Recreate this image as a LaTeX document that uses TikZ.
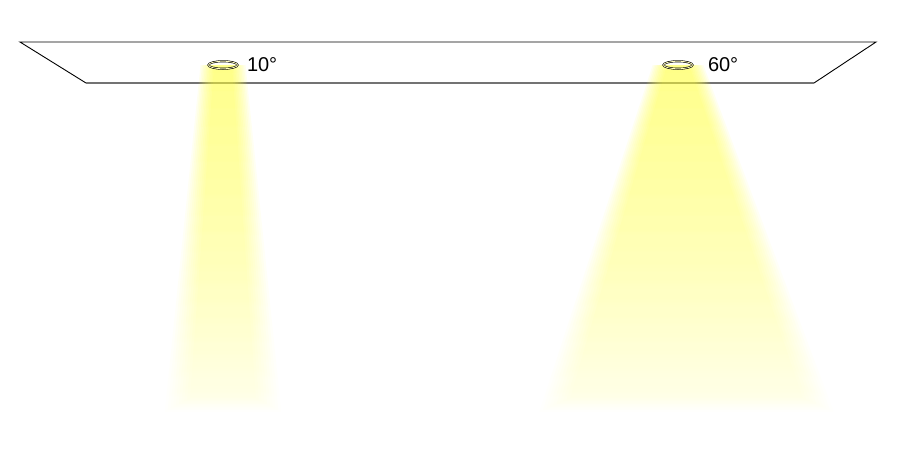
\documentclass[tikz,border=0pt]{standalone}
\usepackage{fontspec}
\setmainfont{Liberation Sans}
\usetikzlibrary{positioning,shapes.geometric,fadings}
\definecolor{beamyellow}{RGB}{255,255,60}
\tikzfading[name=beamfade, top color=transparent!0, middle color=transparent!58, bottom color=transparent!88]
\tikzset{
  ceiling/.style={fill=white,draw=black,line width=0.9pt},
  lamp/.style={ellipse,draw=black,line width=0.6pt,double=yellow!25,double distance=0.8pt,
    minimum width=29pt,minimum height=7.5pt,inner sep=0pt},
  beam/.style={fill=beamyellow,fill opacity=0.085,path fading=beamfade},
  anglelabel/.style={font=\fontsize{20}{24}\selectfont,inner sep=0pt}
}
\begin{document}
\begin{tikzpicture}[x=1pt,y=-1pt]
\useasboundingbox (0,0) rectangle (900,450);
%ceiling
\draw[ceiling] (20,42) -- (876,42) -- (814,83) -- (86,83) -- cycle;
\draw[black!55,line width=1.2pt] (86,83) -- (814,83);
%beams
\foreach \i in {0,...,9} {
  \fill[beam] (214-1.5*\i,65) -- (232+1.5*\i,65) -- (256+2.8*\i,398+1.5*\i) -- (190-2.8*\i,398+1.5*\i) -- cycle;
  \fill[beam] (667-1.6*\i,65) -- (689+1.6*\i,65) -- (803+3.4*\i,398+1.5*\i) -- (570-3.4*\i,398+1.5*\i) -- cycle;
}
%lamps
\node[lamp] (lampA) at (223,65) {};
\node[lamp] (lampB) at (678,65) {};
\node[anglelabel,right=9pt of lampA] (angA) {10°};
\node[anglelabel,right=15pt of lampB] (angB) {60°};
\end{tikzpicture}
\end{document}
